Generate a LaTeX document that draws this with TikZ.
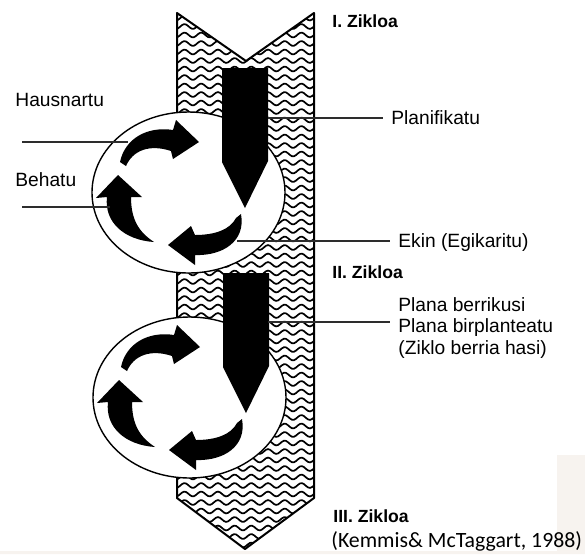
\documentclass[tikz,border=0pt]{standalone}
\usepackage{fontspec}
\setmainfont{Liberation Sans}
\newfontfamily\citefont{Carlito}
\usetikzlibrary{positioning}
\definecolor{paper}{RGB}{247,243,239}
\definecolor{wire}{RGB}{45,45,45}

\begin{document}
\begin{tikzpicture}[x=0.5pt,y=-0.5pt,
 every node/.style={font=\fontsize{9.6}{10.8}\selectfont,inner sep=0pt},
 lbl/.style={anchor=base west,inner xsep=4pt},
 cyc/.style={font=\fontsize{8.8}{10}\selectfont\bfseries,anchor=base west},
 wave/.style={line width=0.85pt},
 wire/.style={draw=wire,line width=0.7pt}]
\useasboundingbox (0,0) rectangle (585,554);
\fill[paper] (0,551) rectangle (585,554) (557,455) rectangle (585,554);
% wavy band
\begin{scope}
\clip (177,13) -- (246,61) -- (314,13) -- (314,498) -- (245,549) -- (177,498) -- cycle;
\foreach \y in {18,26.5,...,552}
  \draw[wave] plot[domain=172:320,samples=75,smooth] (\x,{\y+2.4*sin(21.56*(\x-172))});
\end{scope}
\draw[line width=1pt,line join=round] (177,13) -- (246,61) -- (314,13) -- (314,498) -- (245,549) -- (177,498) -- cycle;
% the two cycles
\foreach \dx/\dy in {0/0,1/205} {
\begin{scope}[shift={(\dx,\dy)}]
\draw[fill=white,line width=0.7pt] (188.5,192.5) ellipse [x radius=96.5,y radius=80.5];
\fill (222,68) -- (268,68) -- (268,161) -- (245,208) -- (222,162) -- cycle;
\fill (120,162) .. controls (125,138) and (148,126) .. (173,130) -- (176,120) -- (199,142) -- (173,159) -- (171,151) .. controls (150,144) and (133,150) .. (126,166) -- cycle;
\fill (118,175) -- (142,197) -- (131,197) .. controls (131,220) and (139,232) .. (154,242) .. controls (124,240) and (104,222) .. (107,197) -- (96,198) -- cycle;
\fill (241,214) .. controls (246,241) and (223,256) .. (195,255) -- (195,265) -- (168,245) -- (191,226) -- (195,235) .. controls (214,235) and (230,230) .. (236,218) -- cycle;
\end{scope}
}
% labels
\node[anchor=base west] (hausnartu) at (15,106) {Hausnartu};
\node[anchor=base west] (behatu) at (15,186) {Behatu};
\node[lbl] (planifikatu) at (383,124.5) {Planifikatu};
\node[lbl] (ekin) at (390,247) {Ekin (Egikaritu)};
\node[anchor=north west,inner xsep=4pt,align=left] (plana) at (390,297) {Plana berrikusi\\Plana birplanteatu\\(Ziklo berria hasi)};
\node[cyc] (zik1) at (332,27) {I. Zikloa};
\node[cyc] (zik2) at (332,278) {II. Zikloa};
\node[cyc] (zik3) at (333,522) {III. Zikloa};
\node[anchor=base west,font=\citefont\fontsize{10.9}{12}\selectfont] (iturria) at (331,547) {(Kemmis\& McTaggart, 1988)};
% connectors
\coordinate (haus-a) at (22,142);\coordinate (haus-b) at (128,142);
\coordinate (beha-a) at (22,207);\coordinate (beha-b) at (110,207);
\coordinate (plan-a) at (268,118);
\coordinate (ekin-a) at (237,241);
\coordinate (plana-a) at (268,322);
\draw[wire] (haus-a) -- (haus-b);
\draw[wire] (beha-a) -- (beha-b);
\draw[wire] (plan-a) -- (plan-a -| planifikatu.west);
\draw[wire] (ekin-a) -- (ekin-a -| ekin.west);
\draw[wire] (plana-a) -- (plana-a -| plana.west);
\end{tikzpicture}
\end{document}
